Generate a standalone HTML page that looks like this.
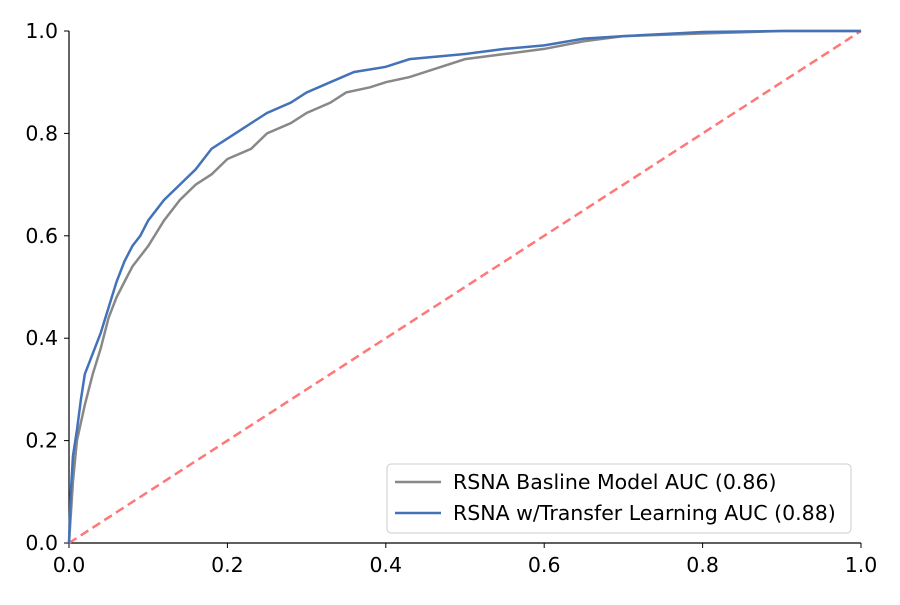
<!DOCTYPE html>
<html><head><meta charset="utf-8"><style>
body{margin:0;background:#fff}
svg text{font-family:"DejaVu Sans","Liberation Sans",sans-serif;font-size:20.5px;fill:#000}
</style></head><body>
<svg id="chart" width="900" height="600">
<g id="axes"></g><g id="series"></g>
<g>
<rect x="387" y="464" width="464" height="69" rx="4" fill="#fff" stroke="#ccc"/>
<line x1="395" y1="482" x2="441" y2="482" stroke="#888888" stroke-width="2.5"/>
<text x="453" y="489">RSNA Basline Model AUC (0.86)</text>
<line x1="395" y1="513" x2="441" y2="513" stroke="#4472b8" stroke-width="2.5"/>
<text x="453" y="520">RSNA w/Transfer Learning AUC (0.88)</text>
</g>
</svg>
<script>
const ticks=[0,0.2,0.4,0.6,0.8,1.0];
const tickLabels=["0.0","0.2","0.4","0.6","0.8","1.0"];
const baseFpr=[0,0.005,0.01,0.02,0.03,0.04,0.05,0.06,0.07,0.08,0.1,0.12,0.14,0.16,0.18,0.2,0.23,0.25,0.28,0.3,0.33,0.35,0.38,0.4,0.43,0.47,0.5,0.55,0.6,0.65,0.7,0.8,0.9,1];
const baseTpr=[0,0.12,0.2,0.27,0.33,0.38,0.44,0.48,0.51,0.54,0.58,0.63,0.67,0.70,0.72,0.75,0.77,0.80,0.82,0.84,0.86,0.88,0.89,0.90,0.91,0.93,0.945,0.955,0.965,0.98,0.99,0.995,1,1];
const tlFpr=[0,0.002,0.005,0.01,0.015,0.02,0.03,0.04,0.05,0.06,0.07,0.08,0.09,0.1,0.12,0.14,0.16,0.18,0.2,0.22,0.25,0.28,0.3,0.33,0.36,0.4,0.43,0.5,0.55,0.6,0.65,0.7,0.8,0.9,1];
const tlTpr=[0,0.09,0.17,0.22,0.28,0.33,0.37,0.41,0.46,0.51,0.55,0.58,0.60,0.63,0.67,0.70,0.73,0.77,0.79,0.81,0.84,0.86,0.88,0.90,0.92,0.93,0.945,0.955,0.965,0.972,0.985,0.99,0.998,1,1];
const X0=69,X1=861,Y0=543,Y1=31;
const sx=v=>X0+v*(X1-X0), sy=v=>Y0-v*(Y0-Y1);
const NS="http://www.w3.org/2000/svg";
const axes=document.getElementById('axes'), series=document.getElementById('series');
function mk(t,a,p){const e=document.createElementNS(NS,t);for(const k in a)e.setAttribute(k,a[k]);p.appendChild(e);return e;}
let e;
e=mk('line',{x1:X0,y1:Y0,x2:X1,y2:Y0,stroke:'#000','stroke-width':1.2},axes);


e=mk('line',{x1:X0,y1:Y0,x2:X0,y2:Y1,stroke:'#000','stroke-width':1.2},axes);


ticks.forEach((t,i)=>{
 mk('line',{x1:sx(t),y1:Y0,x2:sx(t),y2:Y0+5,stroke:'#000'},axes);
 e=mk('text',{x:sx(t),y:Y0+29,'text-anchor':'middle'},axes);e.textContent=tickLabels[i];
 
 
 mk('line',{x1:X0-5,y1:sy(t),x2:X0,y2:sy(t),stroke:'#000'},axes);
 e=mk('text',{x:X0-11,y:sy(t)+7,'text-anchor':'end'},axes);e.textContent=tickLabels[i];
 
 
});
e=mk('line',{x1:sx(0),y1:sy(0),x2:sx(1),y2:sy(1),stroke:'#ff7777','stroke-width':2.5,'stroke-dasharray':'9,5'},series);


function line(xs,ys,c){return mk('polyline',{points:xs.map((x,i)=>sx(x)+','+sy(ys[i])).join(' '),fill:'none',stroke:c,'stroke-width':2.5},series);}
e=line(baseFpr,baseTpr,'#888888');


e=line(tlFpr,tlTpr,'#4472b8');


</script>
</body></html>
